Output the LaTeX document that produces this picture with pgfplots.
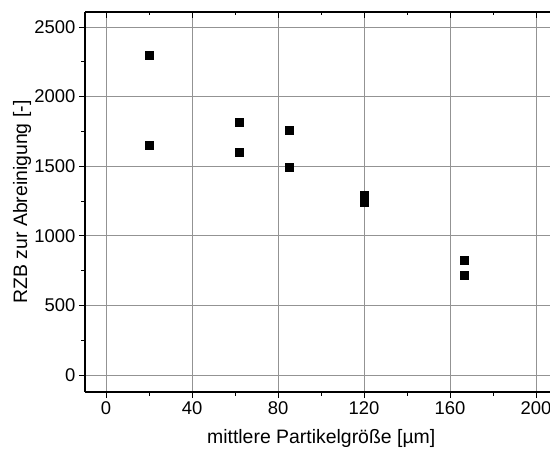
\documentclass[border=0pt]{standalone}
\usepackage{fontspec}
\setmainfont{Liberation Sans}
\usepackage{pgfplots}
\pgfplotsset{compat=1.18}
\begin{document}
\begin{tikzpicture}
\path[use as bounding box] (-85bp,-61bp) rectangle (465bp,392bp);
\pgfplotsset{common/.style={
  scale only axis, width=465bp, height=380bp, at={(0,0)}, anchor=south west,
  xmin=-9.8, xmax=206.5, ymin=-122, ymax=2608,
  xtick={0,40,...,200}, ytick={0,500,...,2500},
  minor x tick num=1, minor y tick num=1,
  major tick length=6bp, minor tick length=3.5bp,
  tick style={black, line width=1bp},
  axis line style={black, line width=1.2bp},
  /pgf/number format/assume math mode=true,
  /pgf/number format/1000 sep={},
  tick label style={font=\fontsize{18.5}{20}\selectfont},
}}
\begin{axis}[common,
  axis x line*=bottom, axis y line*=left, tick align=outside,
  grid=major, grid style={gray!85, line width=0.9bp},
  xlabel={mittlere Partikelgröße [µm]},
  ylabel={RZB zur Abreinigung [-]},
  label style={font=\fontsize{19.5}{21}\selectfont},
  xlabel style={at={(axis description cs:0.508,0)}, anchor=center, yshift=-46bp},
  ylabel style={at={(axis description cs:-0.1355,0.5)}, anchor=center},
]
\addplot[only marks, mark=square*, mark size=4bp, mark options={fill=black, draw=black, line width=0pt}] coordinates {
(20.1,2297) (20.1,1650)
(62.0,1813) (62.0,1597)
(85.5,1758) (85.5,1494)
(120,1288) (120,1238)
(166.5,822) (166.5,712)
};
\end{axis}
\begin{axis}[common,
  axis x line*=top, axis y line=none, tick align=inside,
  xticklabels={}, 
]
\addplot[draw=none] coordinates {(0,0)};
\end{axis}
\end{tikzpicture}
\end{document}
